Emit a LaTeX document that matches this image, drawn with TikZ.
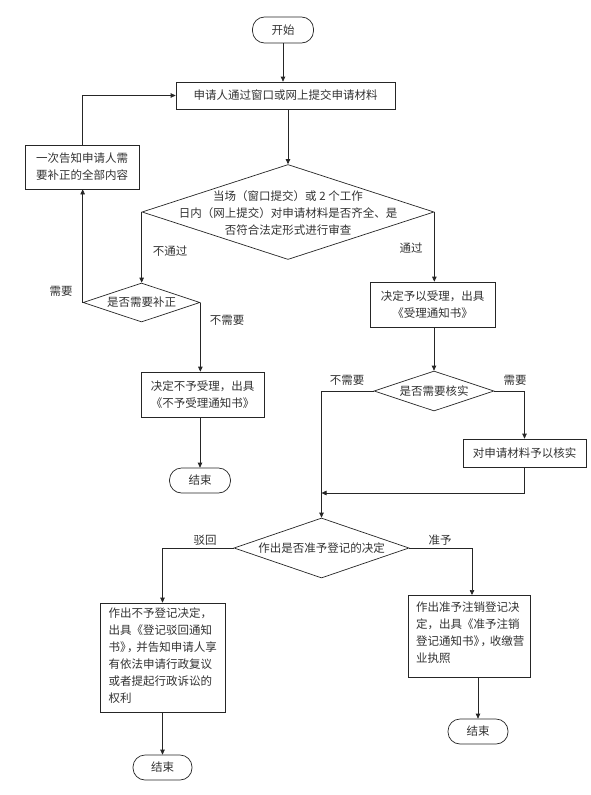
\documentclass[tikz,border=0pt]{standalone}
\usepackage{fontspec}
\setmainfont{Noto Sans CJK SC}
\usetikzlibrary{shapes.geometric,arrows.meta}
\begin{document}
\begin{tikzpicture}[x=1pt,y=-1pt,
  every node/.style={font=\fontsize{11.5}{17}\selectfont, text=black!80},
  box/.style={draw=black!85, line width=0.7pt, rectangle, inner sep=0pt, align=center},
  term/.style={draw=black!85, line width=0.7pt, rectangle, rounded corners=12pt, inner sep=0pt},
  dia/.style={draw=black!85, line width=0.7pt, diamond, inner sep=0pt},
  arr/.style={draw=black!85, line width=0.7pt, -{Triangle[length=5pt,width=4.5pt]}},
  ln/.style={draw=black!85, line width=0.7pt},
  lab/.style={inner sep=0pt}]
\useasboundingbox (0,0) rectangle (591,795);
\fill[white] (0,0) rectangle (591,795);
% nodes
\node[term, minimum width=61pt, minimum height=26pt] (start) at (283,30) {开始};
\node[box, minimum width=219pt, minimum height=27pt] (b1) at (285.5,95.5) {申请人通过窗口或网上提交申请材料};
\node[box, minimum width=114pt, minimum height=44pt] (back) at (82,167) {一次告知申请人需\\要补正的全部内容};
\node[dia, minimum width=292pt, minimum height=95pt] (d1) at (288,212) {};
\node[lab, align=center] (d1t) at (288,213) {当场（窗口提交）或 2 个工作\\日内（网上提交）对申请材料是否齐全、是\\否符合法定形式进行审查};
\node[dia, minimum width=117pt, minimum height=39pt] (d2) at (141.5,302.5) {};
\node[lab] (d2t) at (141.5,302.5) {是否需要补正};
\node[box, minimum width=123pt, minimum height=45pt] (rj) at (202.5,394.5) {决定不予受理，出具\\《不予受理通知书》};
\node[term, minimum width=61pt, minimum height=25pt] (end1) at (200,480.5) {结束};
\node[box, minimum width=125pt, minimum height=45pt] (acc) at (432.5,304.5) {决定予以受理，出具\\《受理通知书》};
\node[dia, minimum width=120pt, minimum height=40pt] (d4) at (434,391) {};
\node[lab] (d4t) at (434,391) {是否需要核实};
\node[box, minimum width=123pt, minimum height=28pt] (ver) at (524.5,453) {对申请材料予以核实};
\node[dia, minimum width=175pt, minimum height=60pt] (d3) at (321.5,548) {};
\node[lab] (d3t) at (321.5,548) {作出是否准予登记的决定};
\node[box, minimum width=125pt, minimum height=109pt] (lf) at (162.5,657.5) {};
\node[lab, align=left, anchor=north west] (lft) at (108.5,608) {作出不予登记决定，\\出具《登记驳回通知\\书》\kern-0.4em，\kern-0.2em 并告知申请人享\\有依法申请行政复议\\或者提起行政诉讼的\\权利};
\node[term, minimum width=59pt, minimum height=25pt] (end2) at (162.5,767.5) {结束};
\node[box, minimum width=122pt, minimum height=82pt] (rf) at (469,636) {};
\node[lab, align=left, anchor=north west] (rft) at (416,602) {作出准予注销登记决\\定，出具《准予注销\\登记通知书》\kern-0.4em，\kern-0.2em 收缴营\\业执照};
\node[term, minimum width=60pt, minimum height=25pt] (end3) at (478,731.5) {结束};
% labels
\node[lab] (l1) at (170,251) {不通过};
\node[lab] (l2) at (411,248) {通过};
\node[lab] (l3) at (61,291) {需要};
\node[lab] (l4) at (227,320) {不需要};
\node[lab] (l5) at (347,380) {不需要};
\node[lab] (l6) at (515,380) {需要};
\node[lab] (l7) at (205,540) {驳回};
\node[lab] (l8) at (440,540) {准予};
\coordinate (j) at (321.5,493);
\coordinate (rfin) at (472,595);
% connectors
\draw[arr] (start.south) -- (start.south |- b1.north);
\draw[arr] (d1.north |- b1.south) -- (d1.north);
\draw[arr] (back.north) |- (b1.west);
\draw[arr] (d1.west) -- (d1.west |- d2.north);
\draw[arr] (d2.west) -- (d2.west |- back.south);
\draw[arr] (d2.east) -- (d2.east |- rj.north);
\draw[arr] (end1.north |- rj.south) -- (end1.north);
\draw[arr] (d1.east) -- (d1.east |- acc.north);
\draw[arr] (d4.north |- acc.south) -- (d4.north);
\draw[arr] (d4.west) -| (d3.north);
\draw[arr] (d4.east) -| (ver.north);
\draw[arr] (ver.south) |- (j);
\draw[arr] (d3.west) -| (lf.north);
\draw[arr] (d3.east) -| (rfin);
\draw[arr] (lf.south) -- (end2.north);
\draw[arr] (end3.north |- rf.south) -- (end3.north);
\end{tikzpicture}
\end{document}
